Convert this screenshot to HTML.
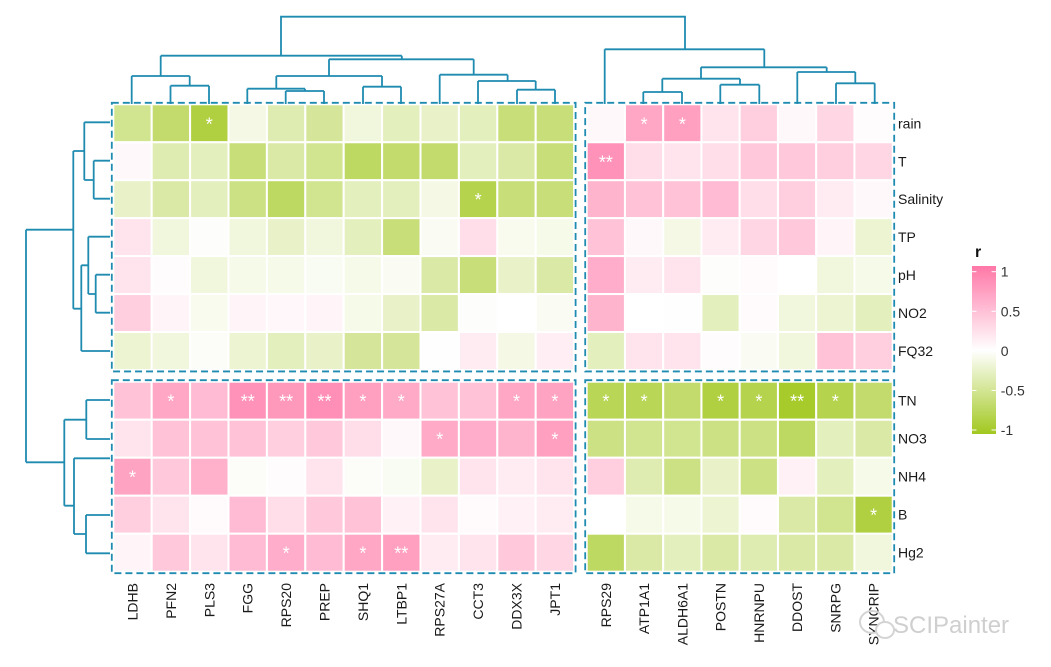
<!DOCTYPE html>
<html><head><meta charset="utf-8"><style>
html,body{margin:0;padding:0;background:#fff;}
svg{display:block;font-family:"Liberation Sans",Arial,sans-serif;}
</style></head><body>
<svg id="chart" width="1051" height="667" viewBox="0 0 1051 667"></svg>
<script>
const rowsTop=["rain","T","Salinity","TP","pH","NO2","FQ32"];
const rowsBot=["TN","NO3","NH4","B","Hg2"];
const colsLeft=["LDHB","PFN2","PLS3","FGG","RPS20","PREP","SHQ1","LTBP1","RPS27A","CCT3","DDX3X","JPT1"];
const colsRight=["RPS29","ATP1A1","ALDH6A1","POSTN","HNRNPU","DDOST","SNRPG","SYNCRIP"];
const valsTL=[
[-0.5,-0.65,-0.85,-0.12,-0.35,-0.45,-0.15,-0.3,-0.25,-0.3,-0.6,-0.6],
[0.05,-0.35,-0.3,-0.6,-0.4,-0.5,-0.7,-0.65,-0.65,-0.3,-0.4,-0.6],
[-0.25,-0.4,-0.3,-0.55,-0.7,-0.5,-0.3,-0.3,-0.12,-0.8,-0.6,-0.6],
[0.2,-0.15,-0.02,-0.15,-0.25,-0.15,-0.3,-0.6,-0.05,0.25,-0.08,-0.1],
[0.2,0.02,-0.15,-0.1,-0.1,-0.06,-0.1,-0.05,-0.4,-0.6,-0.25,-0.4],
[0.35,0.07,-0.08,0.08,0.06,0.07,-0.1,-0.25,-0.4,-0.02,0,-0.05],
[-0.2,-0.15,-0.03,-0.2,-0.3,-0.25,-0.45,-0.45,0.01,0.15,-0.12,0.12]];
const valsBL=[
[0.45,0.65,0.5,0.8,0.75,0.82,0.7,0.62,0.45,0.45,0.65,0.68],
[0.2,0.45,0.45,0.45,0.35,0.4,0.25,0.05,0.62,0.6,0.55,0.7],
[0.68,0.4,0.58,-0.03,0.02,0.2,-0.03,-0.06,-0.25,0.2,0.15,0.2],
[0.35,0.2,0.03,0.5,0.25,0.4,0.45,0.1,0.2,0.03,0.1,0.15],
[0.07,0.4,0.2,0.5,0.6,0.5,0.65,0.7,0.15,0.2,0.4,0.3]];
const valsTR=[
[0.05,0.65,0.7,0.2,0.35,0.05,0.3,0.02],
[0.8,0.25,0.2,0.25,0.4,0.4,0.35,0.3],
[0.55,0.45,0.45,0.5,0.25,0.35,0.15,0.05],
[0.45,0.05,-0.12,0.15,0.3,0.4,0.07,-0.2],
[0.6,0.15,0.2,-0.02,0.03,0,-0.15,-0.1],
[0.55,0,0.01,-0.3,0.03,-0.15,-0.2,-0.3],
[-0.3,0.2,0.2,0.02,-0.05,-0.15,0.45,0.35]];
const valsBR=[
[-0.75,-0.75,-0.65,-0.85,-0.8,-0.95,-0.8,-0.65],
[-0.55,-0.5,-0.5,-0.55,-0.55,-0.7,-0.3,-0.4],
[0.35,-0.35,-0.55,-0.25,-0.55,0.1,-0.3,-0.1],
[0,-0.1,-0.1,-0.2,0.03,-0.4,-0.5,-0.85],
[-0.7,-0.4,-0.3,-0.4,-0.35,-0.4,-0.4,-0.15]];
const sigTL=[
["","","*","","","","","","","","",""],
["","","","","","","","","","","",""],
["","","","","","","","","","*","",""],
["","","","","","","","","","","",""],
["","","","","","","","","","","",""],
["","","","","","","","","","","",""],
["","","","","","","","","","","",""]];
const sigBL=[
["","*","","**","**","**","*","*","","","*","*"],
["","","","","","","","","*","","","*"],
["*","","","","","","","","","","",""],
["","","","","","","","","","","",""],
["","","","","*","","*","**","","","",""]];
const sigTR=[
["","*","*","","","","",""],
["**","","","","","","",""],
["","","","","","","",""],["","","","","","","",""],["","","","","","","",""],["","","","","","","",""],["","","","","","","",""]];
const sigBR=[
["*","*","","*","*","**","*",""],
["","","","","","","",""],["","","","","","","",""],
["","","","","","","","*"],["","","","","","","",""]];
const legendTicks=[1,0.5,0,-0.5,-1];

const svg=document.getElementById('chart');
const NS='http://www.w3.org/2000/svg';
function mk(tag,attrs,parent){const e=document.createElementNS(NS,tag);for(const k in attrs)e.setAttribute(k,attrs[k]);(parent||svg).appendChild(e);return e;}
const PINK=[255,119,166],GREEN=[162,200,31];
function color(v){v=Math.max(-1,Math.min(1,v));const t=Math.abs(v),c=v>=0?PINK:GREEN;
 return 'rgb('+[0,1,2].map(i=>Math.round(255+(c[i]-255)*t)).join(',')+')';}
const CW=38.4;
const X0L=113.3,X0R=586.7,Y0T=104.3,Y0B=381.7;
const xL=i=>X0L+i*CW, xR=i=>X0R+i*38.25, yT=j=>Y0T+j*37.95, yB=j=>Y0B+j*38;

function block(vals,sig,xf,yf,cw,name){
 const g=mk('g',{});
 
 
 vals.forEach((row,j)=>row.forEach((v,i)=>{
  const r=mk('rect',{x:xf(i),y:yf(j),width:cw,height:38,fill:color(v),stroke:'#fff','stroke-width':2},g);
  
  
  if(sig[j][i]){const t=mk('text',{x:xf(i)+cw/2,y:yf(j)+26,'text-anchor':'middle',fill:'#fff','font-size':18},g);t.textContent=sig[j][i];
   
   }
 }));
 const nr=vals.length,nc=vals[0].length;
 const b=mk('rect',{x:xf(0)-1.5,y:yf(0)-1.5,width:nc*cw+3,height:(yf(1)-yf(0))*nr+3,fill:'none',stroke:'#1f8bb0','stroke-width':1.8,'stroke-dasharray':'7,4'},g);
 
 
}
block(valsTL,sigTL,xL,yT,CW,'block-top-left');
block(valsBL,sigBL,xL,yB,CW,'block-bottom-left');
block(valsTR,sigTR,xR,yT,38.25,'block-top-right');
block(valsBR,sigBR,xR,yB,38.25,'block-bottom-right');

rowsTop.forEach((n,j)=>{const t=mk('text',{x:898,y:yT(j)+24,'font-size':14,fill:'#1a1a1a'});t.textContent=n;
 });
rowsBot.forEach((n,j)=>{const t=mk('text',{x:898,y:yB(j)+24,'font-size':14,fill:'#1a1a1a'});t.textContent=n;
 });
function colLabel(n,x){const t=mk('text',{x:0,y:0,'font-size':14,fill:'#1a1a1a','text-anchor':'end',transform:'translate('+(x+5)+',583) rotate(-90)'});t.textContent=n;
 }
colsLeft.forEach((n,i)=>colLabel(n,xL(i)+CW/2));
colsRight.forEach((n,i)=>colLabel(n,xR(i)+19.1));

const dend=[
 "M281,55.7 V16.7 H685 V49.3","M160.7,55.7 H401.8","M401.8,55.7 V59.3 M329,59.3 H473.7",
 "M160.7,55.7 V76 M131.7,76 H189.7 M131.7,76 V104 M189.7,76 V85.7 M170.5,85.7 H209 M170.5,85.7 V104 M209,85.7 V104",
 "M329,59.3 V76 M276.3,76 H382 M276.3,76 V88.7 M247.3,88.7 H305 M247.3,88.7 V104 M305,88.7 V91 M285.7,91 H324 M285.7,91 V104 M324,91 V104",
 "M382,76 V86.7 M363,86.7 H401 M363,86.7 V104 M401,86.7 V104",
 "M473.7,59.3 V74.7 M439.7,74.7 H507.6 M439.7,74.7 V104 M507.6,74.7 V81 M478,81 H535.7 M478,81 V104 M535.7,81 V89.7 M517,89.7 H555 M517,89.7 V104 M555,89.7 V104",
 "M604.7,49.3 H764.3 M604.7,49.3 V104 M764.3,49.3 V67.3 M701,67.3 H826.7 M701,67.3 V78.7 M662.3,78.7 H740 M662.3,78.7 V92 M643.3,92 H682 M643.3,92 V104 M682,92 V104",
 "M740,78.7 V84.7 M720.3,84.7 H759.3 M720.3,84.7 V104 M759.3,84.7 V104",
 "M826.7,67.3 V72 M797.3,72 H855.3 M797.3,72 V104 M855.3,72 V83.3 M836,83.3 H874.7 M836,83.3 V104 M874.7,83.3 V104",
 "M26,229.7 V462.3 M26,229.7 H73.3 M73.3,151 V308.7 M73.3,151 H84.3 M84.3,122.3 V180 M84.3,122.3 H110 M84.3,180 H93.7 M93.7,160.7 V198.7 M93.7,160.7 H110 M93.7,198.7 H110",
 "M73.3,308.7 H81.3 M81.3,265.3 V351 M81.3,351 H110 M81.3,265.3 H88.3 M88.3,236.7 V294 M88.3,236.7 H110 M88.3,294 H95.7 M95.7,274.7 V312.7 M95.7,274.7 H110 M95.7,312.7 H110",
 "M26,462.3 H64.3 M64.3,419.7 V505.7 M64.3,419.7 H86.3 M86.3,400 V439 M86.3,400 H110 M86.3,439 H110",
 "M64.3,505.7 H74 M74,458.3 V534 M74,458.3 H110 M74,534 H86 M86,515 V553.3 M86,515 H110 M86,553.3 H110"
];
const dg=mk('g',{fill:'none',stroke:'#1f8bb0','stroke-width':1.8});


dend.forEach(d=>{const p=mk('path',{d:d},dg);});

const defs=mk('defs',{});
const lg=mk('linearGradient',{id:'lgrad',x1:0,y1:0,x2:0,y2:1},defs);
for(let k=0;k<=20;k++){const v=1-k/10;mk('stop',{offset:(k/20),'stop-color':color(v)},lg);}
const lt=mk('text',{x:975,y:257,'font-size':16,'font-weight':'bold',fill:'#111'});lt.textContent='r';

const lb=mk('rect',{x:972,y:266,width:24,height:168,fill:'url(#lgrad)'});

const ly=v=>271.7+(1-v)/2*(430-271.7);
legendTicks.forEach(v=>{
 mk('line',{x1:972,x2:976.5,y1:ly(v),y2:ly(v),stroke:'#fff','stroke-width':1});
 mk('line',{x1:991.5,x2:996,y1:ly(v),y2:ly(v),stroke:'#fff','stroke-width':1});
 const t=mk('text',{x:1000.7,y:ly(v)+5,'font-size':14,fill:'#333'});t.textContent=String(v);
 
});
const wm=mk('g',{});

mk('ellipse',{cx:872,cy:622,rx:12,ry:11,fill:'none',stroke:'#d4d4d4','stroke-width':2},wm);
mk('ellipse',{cx:885,cy:630,rx:9,ry:8,fill:'#fff',stroke:'#d4d4d4','stroke-width':2},wm);
const wt=mk('text',{x:893,y:633,'font-size':24,fill:'#cfcfcf'},wm);wt.textContent='SCIPainter';
</script>
</body></html>
